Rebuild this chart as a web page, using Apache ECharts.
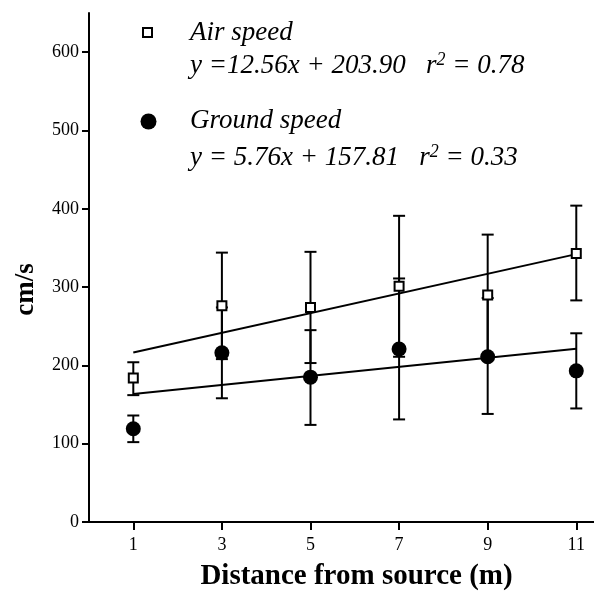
<!DOCTYPE html>
<html>
<head>
<meta charset="utf-8">
<script src="https://cdn.jsdelivr.net/npm/echarts@6/dist/echarts.min.js"></script>
<style>
  html, body { margin: 0; padding: 0; background: #fff; }
  #chart { width: 594px; height: 596px; }
</style>
</head>
<body>
<div id="chart"></div>
<script>
// distance from source (m)
const distances = [1, 3, 5, 7, 9, 11];
const xTicks = [1, 3, 5, 7, 9, 11];
const yTicks = [0, 100, 200, 300, 400, 500, 600];

// air speed, cm/s (mean and error bar ends)
const airMean = [184, 276, 274, 301, 290, 343];
const airLow  = [162, 208, 203, 211, 213, 283];
const airHigh = [204, 344, 345, 391, 367, 404];

// ground speed, cm/s
const groundMean = [119, 216, 185, 221, 211, 193];
const groundLow  = [102, 158, 124, 131, 138, 145];
const groundHigh = [136, 274, 245, 311, 286, 241];

// fitted lines, ends at x = 1 and x = 11
const fitX = [1, 11];
const airFit = [216.5, 342.1];
const groundFit = [163.6, 221.2];

const serif = '"Liberation Serif", "DejaVu Serif", serif';

function pairs(xs, ys) {
    return xs.map((x, i) => [x, ys[i]]);
}
function bars(xs, lo, hi) {
    return xs.map((x, i) => [x, lo[i], hi[i]]);
}

function renderErrorBar(params, api) {
    const x = api.value(0);
    const pLo = api.coord([x, api.value(1)]);
    const pHi = api.coord([x, api.value(2)]);
    const hw = 6;
    const style = { stroke: '#000', lineWidth: 2 };
    return {
        type: 'group',
        children: [
            { type: 'line', shape: { x1: pLo[0], y1: pLo[1], x2: pHi[0], y2: pHi[1] }, style: style },
            { type: 'line', shape: { x1: pLo[0] - hw, y1: pLo[1], x2: pLo[0] + hw, y2: pLo[1] }, style: style },
            { type: 'line', shape: { x1: pHi[0] - hw, y1: pHi[1], x2: pHi[0] + hw, y2: pHi[1] }, style: style }
        ]
    };
}

function eqText(text, r2) {
    return '{a|' + text + '   r}{s|2}{a| = ' + r2 + '}';
}
const eqRich = {
    a: { fontFamily: serif, fontStyle: 'italic', fontSize: 27, lineHeight: 30, color: '#000' },
    s: { fontFamily: serif, fontStyle: 'italic', fontSize: 18, lineHeight: 18, color: '#000', verticalAlign: 'top' }
};

const chart = echarts.init(document.getElementById('chart'));
chart.setOption({
    animation: false,
    backgroundColor: '#fff',
    grid: { left: 89, right: 0, top: 13, bottom: 73 },
    xAxis: {
        type: 'value',
        min: 0,
        max: 11.4,
        name: 'Distance from source (m)',
        nameLocation: 'middle',
        nameGap: 40,
        nameTextStyle: { fontFamily: serif, fontWeight: 'bold', fontSize: 29, color: '#000', padding: [0, 0, 0, 30] },
        axisLine: { lineStyle: { color: '#000', width: 2 } },
        axisTick: { customValues: xTicks, length: 8, lineStyle: { color: '#000', width: 2 } },
        axisLabel: { customValues: xTicks, margin: 14, fontFamily: serif, fontSize: 18, color: '#000' },
        splitLine: { show: false }
    },
    yAxis: {
        type: 'value',
        min: 0,
        max: 650,
        name: 'cm/s',
        nameLocation: 'middle',
        nameGap: 49,
        nameTextStyle: { fontFamily: serif, fontWeight: 'bold', fontSize: 27, color: '#000', padding: [0, 44, 0, 0] },
        axisLine: { show: true, lineStyle: { color: '#000', width: 2 } },
        axisTick: { show: true, customValues: yTicks, length: 7, lineStyle: { color: '#000', width: 2 } },
        axisLabel: { customValues: yTicks, margin: 10, fontFamily: serif, fontSize: 18, color: '#000' },
        splitLine: { show: false }
    },
    graphic: [
        { type: 'rect', shape: { x: 143, y: 28, width: 9, height: 9 }, style: { fill: '#fff', stroke: '#000', lineWidth: 2 } },
        { type: 'text', x: 190, y: 19, style: { text: 'Air speed', font: 'italic 27px ' + serif, fill: '#000' } },
        { type: 'text', x: 190, y: 51, style: { text: eqText('y =12.56x + 203.90', '0.78'), rich: eqRich } },
        { type: 'circle', shape: { cx: 148.5, cy: 121.5, r: 8 }, style: { fill: '#000' } },
        { type: 'text', x: 190, y: 107, style: { text: 'Ground speed', font: 'italic 27px ' + serif, fill: '#000' } },
        { type: 'text', x: 190, y: 143, style: { text: eqText('y = 5.76x + 157.81', '0.33'), rich: eqRich } }
    ],
    series: [
        {
            type: 'line', data: pairs(fitX, airFit), symbol: 'none', silent: true,
            lineStyle: { color: '#000', width: 2 }, z: 2
        },
        {
            type: 'line', data: pairs(fitX, groundFit), symbol: 'none', silent: true,
            lineStyle: { color: '#000', width: 2 }, z: 2
        },
        { type: 'custom', renderItem: renderErrorBar, data: bars(distances, airLow, airHigh), encode: { x: 0, y: [1, 2] }, z: 3 },
        { type: 'custom', renderItem: renderErrorBar, data: bars(distances, groundLow, groundHigh), encode: { x: 0, y: [1, 2] }, z: 3 },
        {
            name: 'Air speed', type: 'scatter', data: pairs(distances, airMean),
            symbol: 'rect', symbolSize: 9,
            itemStyle: { color: '#fff', borderColor: '#000', borderWidth: 2, opacity: 1 }, z: 5
        },
        {
            name: 'Ground speed', type: 'scatter', data: pairs(distances, groundMean),
            symbol: 'circle', symbolSize: 15,
            itemStyle: { color: '#000', opacity: 1 }, z: 5
        }
    ]
});
</script>
</body>
</html>
